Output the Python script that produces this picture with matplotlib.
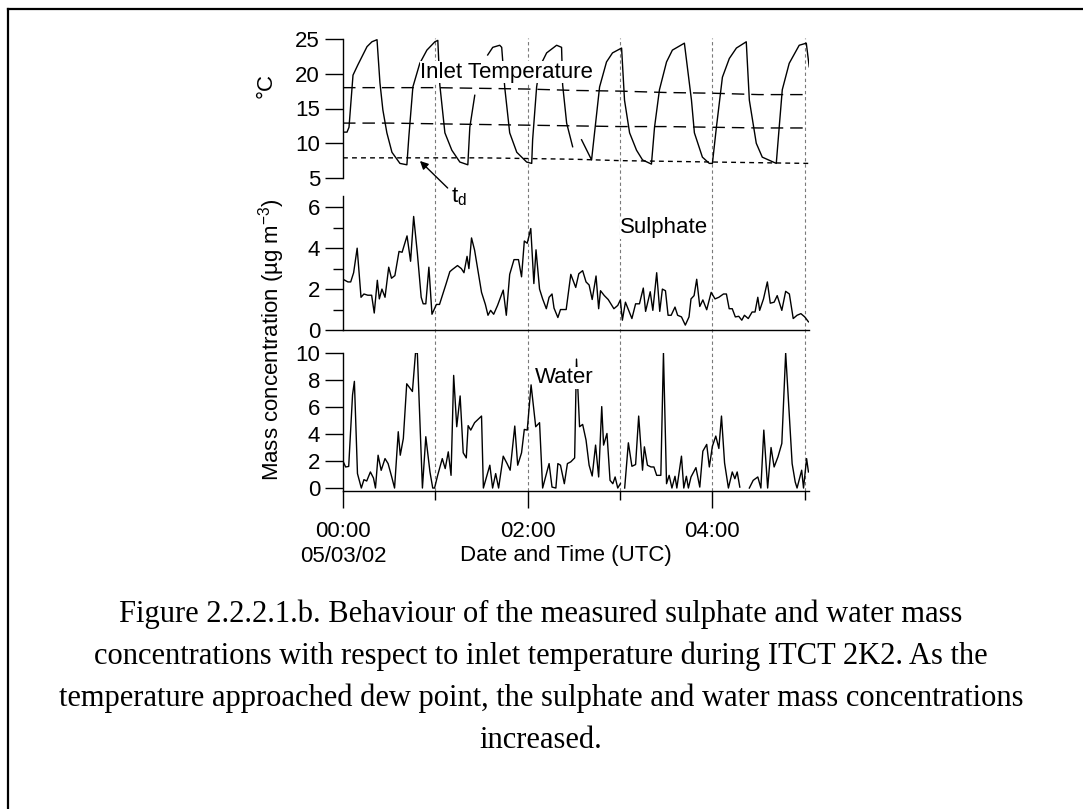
import numpy as np
import matplotlib
matplotlib.use("Agg")
import matplotlib.pyplot as plt
from matplotlib.lines import Line2D

plt.rcParams['font.family'] = ['Liberation Sans', 'DejaVu Sans']
plt.rcParams['mathtext.fontset'] = 'custom'
plt.rcParams['mathtext.rm'] = 'Liberation Sans'
plt.rcParams['mathtext.it'] = 'Liberation Sans:italic'

nan = np.nan

# ---------------- data (time in minutes after 00:00 UTC, 05/03/02) ----------------
temp_time = [0.0, 2.6, 3.9, 6.5, 9.7, 15.6, 18.8, 22.1, 24.0, 25.9, 28.5, 31.8, 37.0, 41.5,
             42.8, 45.4, 49.9, 54.5, 59.7, 61.6, 62.9, 66.2, 70.7, 75.9, 81.1, 82.4, 85.6,
             86.0, 94.0, 97.3, 101.8, 103.1, 105.1, 108.3, 112.9, 119.3, 122.6, 123.2, 125.8,
             127.8, 132.3, 138.8, 142.0, 142.7, 145.3, 149.2, 152.0, 155.0, 161.5, 166.7,
             171.2, 175.1, 181.0, 182.9, 186.2, 190.7, 194.6, 200.4, 202.4, 205.6, 210.2,
             214.0, 221.8, 226.4, 228.3, 233.5, 238.0, 240.0, 242.6, 246.5, 251.0, 255.6,
             262.0, 264.0, 268.5, 272.4, 281.5, 283.4, 285.4, 289.9, 296.4, 301.0, 302.9]
temp_inlet = [11.6, 11.6, 12.3, 19.8, 21.3, 23.9, 24.6, 24.9, 18.7, 14.8, 11.5, 8.7, 7.1, 6.9,
              11.0, 18.1, 21.5, 23.4, 24.6, 24.8, 18.4, 11.5, 9.0, 7.3, 6.9, 12.3, 16.9,
              nan, 22.7, 23.8, 24.1, 23.8, 18.0, 11.5, 8.7, 7.3, 7.1, 10.5, 18.1,
              21.0, 23.0, 24.1, 23.8, 18.4, 12.9, 9.5, nan, 10.5, 7.6, 18.1,
              21.7, 23.0, 23.7, 16.2, 11.5, 9.0, 7.6, 7.0, 12.3, 17.7, 21.7,
              23.4, 24.4, 16.2, 11.5, 8.0, 7.1, 7.1, 12.3, 19.5, 22.2, 23.7,
              24.6, 16.2, 10.0, 8.0, 7.1, 12.3, 17.7, 21.5, 24.1, 24.4, 21.0]

ref_time = [0, 30, 60, 90, 120, 150, 180, 210, 240, 270, 302.5]
temp_upper = [18.0, 18.0, 18.0, 17.9, 17.8, 17.6, 17.5, 17.3, 17.2, 17.0, 17.0]
temp_middle = [12.9, 12.9, 12.8, 12.7, 12.6, 12.5, 12.4, 12.4, 12.3, 12.2, 12.2]
temp_dew = [7.9, 7.9, 7.9, 7.9, 7.8, 7.7, 7.5, 7.4, 7.3, 7.2, 7.1]

sulph_time = [0, 3.2, 5.0, 6.9, 9.2, 11.7, 13.6, 16.1, 18.6, 20.3, 22.3, 23.6, 25.3, 27.3,
              29.7, 31.5, 33.7, 36.4, 38.4, 41.6, 43.9, 45.9, 48.3, 50.8, 52.1, 53.8, 55.8,
              57.8, 60.7, 62.7, 66.9, 69.4, 71.1, 74.4, 76.9, 78.6, 80.6, 81.8, 83.5, 85.5,
              90.0, 92.5, 94.2, 95.9, 97.9, 100.4, 104.1, 106.1, 108.3, 111.1, 114.0, 116.0,
              117.8, 119.7, 122.0, 124.0, 125.4, 127.7, 129.7, 132.1, 133.9, 135.8, 137.1,
              139.6, 141.3, 145.0, 148.0, 151.2, 153.2, 155.7, 157.9, 159.9, 161.9, 164.4,
              166.1, 167.3, 169.8, 172.3, 176.0, 178.5, 180.2, 181.5, 183.5, 185.2, 187.7,
              190.1, 192.6, 195.1, 196.6, 199.6, 201.3, 203.8, 205.8, 207.5, 209.5, 211.2,
              213.2, 215.7, 217.4, 219.9, 222.4, 224.8, 226.1, 228.1, 229.8, 231.8, 233.8,
              236.3, 239.2, 241.7, 244.2, 247.2, 249.1, 250.9, 252.9, 254.9, 257.1, 259.1,
              260.8, 263.3, 265.8, 267.7, 269.5, 270.7, 273.2, 275.7, 277.6, 280.1, 282.1,
              285.1, 287.6, 290.0, 292.5, 295.0, 297.5, 300.0, 302.4]
sulphate = [2.48, 2.35, 2.35, 2.8, 4.0, 1.6, 1.76, 1.7, 1.7, 0.83, 2.43, 1.52, 2.0, 1.6,
            3.07, 2.53, 2.66, 3.84, 3.8, 4.6, 3.36, 5.55, 3.76, 1.6, 1.28, 1.28, 3.07,
            0.77, 1.25, 1.25, 2.24, 2.85, 2.96, 3.15, 3.0, 2.8, 3.6, 3.0, 4.5, 3.9,
            1.84, 1.25, 0.72, 0.96, 0.77, 1.2, 1.95, 0.72, 2.72, 3.44, 3.44, 2.6,
            4.35, 4.24, 4.96, 2.27, 3.92, 2.0, 1.52, 1.04, 1.6, 1.76, 1.07,
            0.61, 1.0, 1.0, 2.72, 2.08, 2.75, 2.9, 2.35, 2.2, 1.49, 2.64,
            1.04, 1.92, 1.68, 1.49, 1.04, 1.2, 1.47, 0.48, 1.36, 1.04, 0.56,
            1.28, 1.28, 2.05, 0.91, 1.87, 0.96, 2.8, 0.91, 2.0, 1.92, 0.72,
            0.72, 1.12, 0.72, 0.64, 0.24, 0.64, 1.52, 1.68, 2.48, 1.15, 1.47,
            0.99, 1.84, 1.52, 1.6, 1.76, 1.76, 1.04, 1.04, 0.64, 0.67, 0.48,
            0.72, 0.56, 0.88, 0.88, 1.6, 0.96, 1.52, 2.35, 1.31, 1.36, 1.68,
            0.96, 1.89, 1.76, 0.56, 0.72, 0.8, 0.64, 0.4]

water_time = [0, 1.7, 3.7, 6.2, 7.4, 9.4, 11.9, 13.6, 15.4, 17.8, 19.8, 21.1, 22.8, 24.8,
              27.3, 29.3, 31.7, 33.5, 35.9, 37.2, 39.2, 41.4, 45.1, 47.1, 48.3, 51.6, 53.8,
              56.5, 58.3, 59.5, 61.5, 64.5, 66.4, 68.4, 70.2, 71.9, 73.9, 76.1, 78.1, 80.1,
              81.3, 83.0, 85.5, 90.0, 91.2, 95.4, 97.2, 99.2, 101.1, 104.1, 106.6, 108.6,
              111.6, 113.5, 116.0, 117.8, 119.7, 122.2, 125.2, 127.7, 129.7, 133.9, 135.8,
              138.3, 139.6, 141.3, 143.8, 145.8, 148.0, 150.5, 151.7, 153.7, 155.7, 157.9,
              159.9, 161.9, 164.1, 166.1, 168.1, 169.3, 171.5, 173.5, 175.3, 176.8, 178.5,
              180.2, 181.5, 183.0, 185.4, 187.7, 190.1, 192.1, 194.6, 195.8, 197.8, 200.1,
              202.0, 203.8, 206.5, 208.2, 210.2, 211.9, 213.7, 215.7, 216.9, 219.9, 221.4,
              223.1, 224.4, 226.1, 229.3, 231.8, 233.8, 236.3, 238.0, 240.0, 242.2, 244.2,
              245.9, 247.9, 250.4, 252.9, 254.6, 256.1, 257.8, 260.0, 264.0, 266.5, 269.5,
              271.5, 273.4, 275.9, 278.1, 280.1, 282.6, 285.1, 287.6, 291.8, 293.8, 295.0,
              298.0, 299.2, 301.2, 302.4]
water = [1.99, 1.56, 1.6, 6.9, 7.9, 1.07, 0, 0.62, 0.52, 1.19, 0.74, 0, 2.43, 1.31,
         2.18, 1.81, 0.8, 0, 4.17, 2.43, 3.67, 7.72, 7.15, 10, 10, 0, 3.8,
         1.19, 0, 0, 0.94, 2.18, 1.44, 2.68, 0.94, 8.34, 4.54, 6.82, 2.61, 2.23,
         4.62, 4.29, 4.84, 5.33, 0, 1.69, 0, 1.07, 0, 2.36, 1.81, 1.32,
         4.59, 1.69, 2.61, 4.34, 4.29, 7.64, 4.54, 4.84, 0, 1.81, 0.07,
         0, 1.81, 1.69, 0.32, 1.81, 1.94, 2.23, 9.55, 4.54, 4.71, 3.55,
         1.69, 0.89, 3.18, 0.82, 6.03, 3.18, 4.04, 0.57, 0.32, 0.82, 0,
         0.32, nan, 0, 3.35, 1.61, 1.74, 5.33, 1.32, 3.05, 1.69, 1.56,
         1.56, 0.94, 0.94, 10, 0.32, 0.94, 0, 0.87, 0, 2.36, 0,
         0.87, 0, 0.82, 1.51, 0.07, 2.73, 3.23, 1.56, 3.1, 3.85, 2.93,
         5.33, 1.86, 0, 1.19, 0.69, 1.19, 0.07, nan, 0, 0.57, 0.82,
         0, 4.29, 0, 3.0, 1.56, 2.31, 3.3, 10, 1.81, 0.45, 0,
         1.32, 0, 2.18, 1.19]

hour_grid = [60, 120, 180, 240, 300]
major_ticks = [0, 120, 240]
major_labels = ["00:00", "02:00", "04:00"]
minor_ticks = [60, 180, 300]
XMAX = 302.5

# ---------------- layout ----------------
W, H = 1083, 809
fig = plt.figure(figsize=(W / 100, H / 100), dpi=100)


def fx(px):
    return px / W


def fy(py):
    return 1 - py / H


X0, X1 = 343, 808.6
FS = 16
LW = 1.0
MAJ, MIN = 13, 7
tick_kw = dict(direction='out', width=1.0, color='black', labelsize=FS)

# background gridlines spanning all panels
axg = fig.add_axes([fx(X0), fy(491), fx(X1 - X0), (491 - 38) / H])
axg.set_xlim(0, XMAX)
axg.set_ylim(0, 1)
axg.axis('off')
for h in hour_grid:
    axg.axvline(h, color='#7a7a7a', lw=0.8, ls=(0, (3, 2.5)), zorder=0)

label_box = dict(facecolor='white', edgecolor='none', pad=0.3)

# --- top panel: temperature ---
axt = fig.add_axes([fx(X0), fy(178), fx(X1 - X0), 139 / H])
axt.patch.set_visible(False)
axt.plot(temp_time, temp_inlet, color='black', lw=LW)
axt.plot(ref_time, temp_upper, color='black', lw=LW, ls=(0, (9, 5)))
axt.plot(ref_time, temp_middle, color='black', lw=LW, ls=(0, (9, 5)))
axt.plot(ref_time, temp_dew, color='black', lw=LW, ls=(0, (3.5, 3)))
axt.set_xlim(0, XMAX)
axt.set_ylim(5, 25)
axt.set_yticks([5, 10, 15, 20, 25])
axt.tick_params(axis='y', length=MAJ, **tick_kw)
axt.set_xticks([])
for s in ['top', 'right', 'bottom']:
    axt.spines[s].set_visible(False)
axt.spines['left'].set_linewidth(1.0)
axt.text(50, 20.2, "Inlet Temperature", fontsize=FS, ha='left', va='center',
         bbox=label_box, zorder=5)
axt.annotate('', xy=(50, 7.45), xytext=(68, 3.56),
             arrowprops=dict(arrowstyle='-|>', color='black', lw=1.0, mutation_scale=12,
                             shrinkA=0, shrinkB=0),
             annotation_clip=False)
axt.text(70.0, 2.3, r"t$_\mathrm{d}$", fontsize=FS, ha='left', va='center', clip_on=False)

# --- middle panel: sulphate ---
axs = fig.add_axes([fx(X0), fy(330), fx(X1 - X0), 134 / H])
axs.patch.set_visible(False)
axs.plot(sulph_time, sulphate, color='black', lw=LW)
axs.set_xlim(0, XMAX)
axs.set_ylim(0, 6.55)
axs.set_yticks([0, 2, 4, 6])
axs.set_yticks([1, 3, 5], minor=True)
axs.tick_params(axis='y', which='major', length=MAJ, **tick_kw)
axs.tick_params(axis='y', which='minor', length=MIN, width=1.0, direction='out')
axs.set_xticks([])
for s in ['top', 'right']:
    axs.spines[s].set_visible(False)
axs.spines['left'].set_linewidth(1.0)
axs.spines['bottom'].set_linewidth(1.0)
axs.text(180, 5.0, "Sulphate", fontsize=FS, ha='left', va='center', bbox=label_box, zorder=5)

# --- bottom panel: water ---
axw = fig.add_axes([fx(X0), fy(491), fx(X1 - X0), 138 / H])
axw.patch.set_visible(False)
axw.plot(water_time, water, color='black', lw=LW)
axw.set_xlim(0, XMAX)
axw.set_ylim(-0.22, 10)
axw.set_yticks([0, 2, 4, 6, 8, 10])
axw.tick_params(axis='y', length=MAJ, **tick_kw)
axw.set_xticks(major_ticks)
axw.set_xticklabels(major_labels)
axw.set_xticks(minor_ticks, minor=True)
axw.tick_params(axis='x', which='major', length=12.5, pad=9, **tick_kw)
axw.tick_params(axis='x', which='minor', length=6.5, width=1.0, direction='out')
for s in ['top', 'right']:
    axw.spines[s].set_visible(False)
axw.spines['left'].set_linewidth(1.0)
axw.spines['bottom'].set_linewidth(1.0)
axw.text(125, 8.15, "Water", fontsize=FS, ha='left', va='center', bbox=label_box, zorder=5)

# axis titles
fig.text(fx(266), fy(86), "°C", fontsize=FS, rotation=90, ha='center', va='center')
fig.text(fx(272), fy(340), "Mass concentration (µg m$^{-3}$)", fontsize=FS, rotation=90,
         ha='center', va='center')
fig.text(fx(343), fy(557), "05/03/02", fontsize=FS, ha='center', va='center')
fig.text(fx(566), fy(555), "Date and Time (UTC)", fontsize=FS, ha='center', va='center')

# caption
caption = [
    "Figure 2.2.2.1.b. Behaviour of the measured sulphate and water mass",
    "concentrations with respect to inlet temperature during ITCT 2K2. As the",
    "temperature approached dew point, the sulphate and water mass concentrations",
    "increased.",
]
for i, line in enumerate(caption):
    fig.text(fx(541), fy(614 + 42.3 * i), line, fontsize=22, family='Liberation Serif',
             ha='center', va='center')

# page frame (top and left edges)
fig.add_artist(Line2D([fx(8), 1.0], [fy(9), fy(9)], color='black', lw=1.6))
fig.add_artist(Line2D([fx(8), fx(8)], [fy(9), 0.0], color='black', lw=1.6))

fig.savefig("out.png", dpi=100)
